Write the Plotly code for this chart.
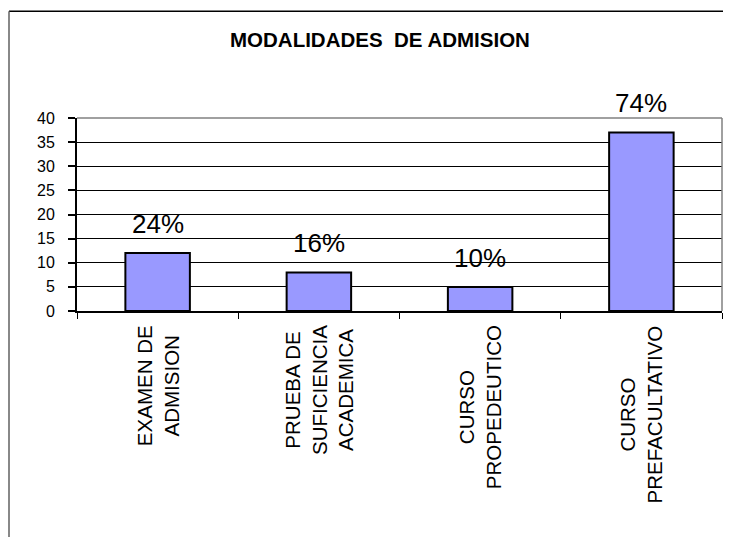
import plotly.graph_objects as go

categories = ["EXAMEN DE<br>ADMISION", "PRUEBA DE<br>SUFICIENCIA<br>ACADEMICA",
              "CURSO<br>PROPEDEUTICO", "CURSO<br>PREFACULTATIVO"]
values = [12, 8, 5, 37]
pct_labels = ["24%", "16%", "10%", "74%"]
y_ticks = [0, 5, 10, 15, 20, 25, 30, 35, 40]
title_text = "MODALIDADES  DE ADMISION"

FONT = "Liberation Sans, Arial, sans-serif"
OFF = 8  # page body margin
W, H = 731 - OFF, 537 - OFF
PL, PR, PT, PB = 77, 722, 117.5, 311  # plot area in window pixels
ML, MR, MT, MB = PL - OFF, 731 - PR, PT - OFF, 537 - PB
PW = PR - PL
PH = PB - PT


def px_x(px):
    return (px - PL) / PW


def px_y(py):
    return (PB - py) / PH


fig = go.Figure()
fig.add_trace(go.Bar(
    x=categories, y=values,
    marker=dict(color="#9999FF", line=dict(color="black", width=2)),
    hoverinfo="skip",
))

annotations = []
for c, v, t in zip(categories, values, pct_labels):
    annotations.append(dict(x=c, y=v, xref="x", yref="y", text=t, showarrow=False,
                            yanchor="bottom", xanchor="center", yshift=12,
                            font=dict(family=FONT, size=26, color="black")))
    annotations.append(dict(x=c, y=0, xref="x", yref="paper", text=c, showarrow=False,
                            textangle=-90, yanchor="top", xanchor="center", yshift=-12,
                            align="center",
                            font=dict(family=FONT, size=20.5, color="black")))

annotations.append(dict(x=px_x(380), y=px_y(38.7), xref="paper", yref="paper",
                        text="<b>" + title_text + "</b>", showarrow=False,
                        xanchor="center", yanchor="middle",
                        font=dict(family=FONT, size=20.5, color="black")))

shapes = [
    # outer chart border (left & top, cropped on right/bottom)
    dict(type="line", xref="paper", yref="paper", x0=px_x(9), x1=px_x(745),
         y0=px_y(10.5), y1=px_y(10.5), line=dict(color="black", width=1.5)),
    dict(type="line", xref="paper", yref="paper", x0=px_x(9), x1=px_x(9),
         y0=px_y(10.5), y1=px_y(560), line=dict(color="#606060", width=1.5)),
    # plot area top & right border (gray)
    dict(type="line", xref="paper", yref="paper", x0=0, x1=1, y0=1, y1=1,
         line=dict(color="#808080", width=1.5), layer="above"),
    dict(type="line", xref="paper", yref="paper", x0=1, x1=1, y0=0, y1=1,
         line=dict(color="#808080", width=1.5), layer="above"),
]

fig.update_layout(
    width=W, height=H,
    margin=dict(l=ML, r=MR, t=MT, b=MB, pad=0),
    paper_bgcolor="white", plot_bgcolor="white",
    showlegend=False,
    bargap=0.6,
    annotations=annotations,
    shapes=shapes,
    font=dict(family=FONT, color="black"),
    xaxis=dict(type="category", showticklabels=False, ticks="outside", ticklen=6,
               tickson="boundaries", tickcolor="black", tickwidth=1,
               showline=True, linecolor="black", linewidth=1.5, showgrid=False,
               zeroline=False, fixedrange=True),
    yaxis=dict(range=[0, 40], tickvals=y_ticks, ticks="outside", ticklen=7,
               tickcolor="black", tickwidth=1.5, ticklabelstandoff=10,
               showline=True, linecolor="black", linewidth=2,
               showgrid=True, gridcolor="black", gridwidth=1, zeroline=False,
               tickfont=dict(family=FONT, size=16, color="black"), fixedrange=True),
)

fig.write_html("out.html")
